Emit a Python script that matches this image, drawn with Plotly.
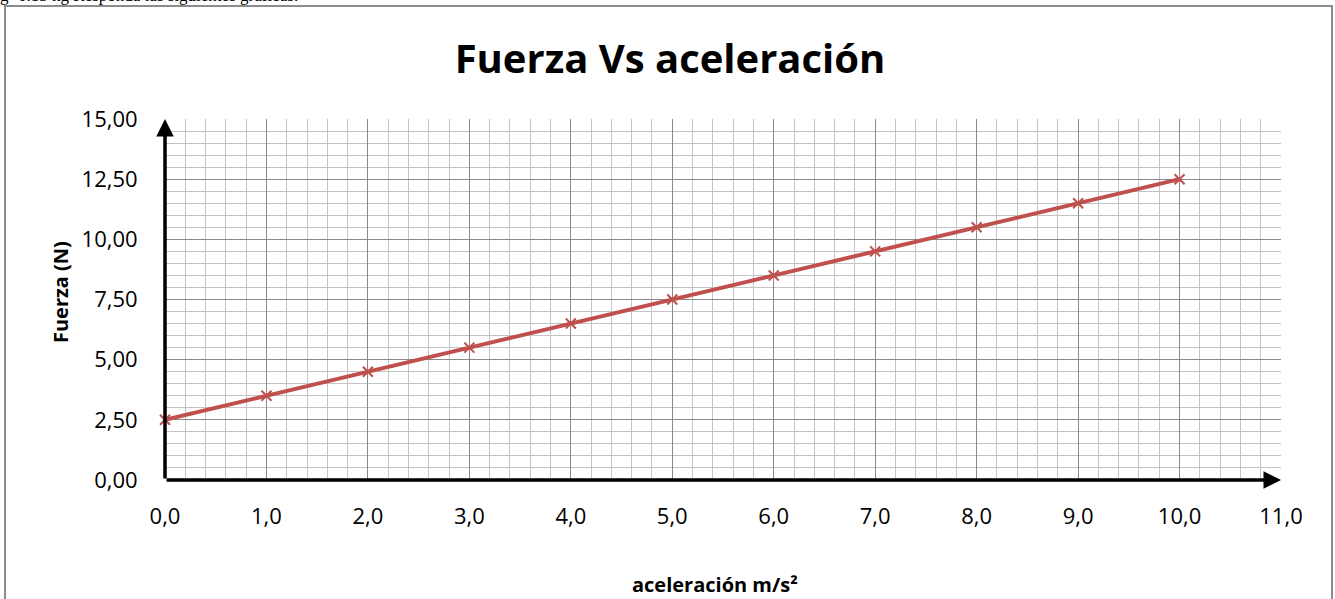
import plotly.graph_objects as go

aceleracion = [0, 1, 2, 3, 4, 5, 6, 7, 8, 9, 10]
fuerza = [2.5, 3.5, 4.5, 5.5, 6.5, 7.5, 8.5, 9.5, 10.5, 11.5, 12.5]

x_ticks = [0, 1, 2, 3, 4, 5, 6, 7, 8, 9, 10, 11]
y_ticks = [0, 2.5, 5, 7.5, 10, 12.5, 15]

FONT = "Open Sans"
W, H = 1335, 599
L, R, T, B = 165, 54, 119, 119
PW, PH = W - L - R, H - T - B


def px(xp):
    return (xp - L) / PW


def py(yp):
    return (H - B - yp) / PH


fig = go.Figure()
fig.add_trace(go.Scatter(
    x=aceleracion, y=fuerza, mode="lines+markers",
    line=dict(color="#C0504D", width=4),
    marker=dict(symbol="x-thin", size=10, line=dict(color="#C0504D", width=2), color="#C0504D"),
    showlegend=False, cliponaxis=False,
))

fig.update_layout(
    width=W, height=H,
    margin=dict(l=L, r=R, t=T, b=B),
    paper_bgcolor="white", plot_bgcolor="white",
    separators=",.",
    font=dict(family=FONT, color="black", size=22),
    title=dict(text="<b>Fuerza Vs aceleración</b>", x=670 / W, xanchor="center",
               y=1 - 59 / H, yanchor="middle", font=dict(size=40, family=FONT)),
)

fig.update_xaxes(
    range=[0, 11], tickvals=x_ticks, tickformat=".1f",
    showgrid=True, gridcolor="#8a8a8a", gridwidth=1,
    minor=dict(dtick=0.2, showgrid=True, gridcolor="#c4c4c4", gridwidth=1),
    zeroline=False, showline=False,
    ticks="outside", ticklen=17, tickcolor="rgba(0,0,0,0)",
    tickfont=dict(size=22, family=FONT),
)
fig.update_yaxes(
    range=[0, 15], tickvals=y_ticks, tickformat=".2f",
    showgrid=True, gridcolor="#8a8a8a", gridwidth=1,
    minor=dict(dtick=0.5, showgrid=True, gridcolor="#c4c4c4", gridwidth=1),
    zeroline=False, showline=False,
    ticks="outside", ticklen=22, tickcolor="rgba(0,0,0,0)",
    tickfont=dict(size=22, family=FONT),
)

# Axis arrows
fig.add_annotation(x=11, y=0, ax=0, ay=0, xref="x", yref="y", axref="x", ayref="y",
                   showarrow=True, arrowhead=2, arrowsize=1, arrowwidth=3.5,
                   arrowcolor="black", text="")
fig.add_annotation(x=0, y=15, ax=0, ay=0, xref="x", yref="y", axref="x", ayref="y",
                   showarrow=True, arrowhead=2, arrowsize=1, arrowwidth=3.5,
                   arrowcolor="black", text="")

# Axis titles
fig.add_annotation(text="<b>aceleración m/s²</b>", xref="paper", yref="paper",
                   x=px(715), y=py(584), showarrow=False,
                   xanchor="center", yanchor="middle", font=dict(size=20, family=FONT))
fig.add_annotation(text="<b>Fuerza (N)</b>", xref="paper", yref="paper",
                   x=px(60), y=py(292), showarrow=False, textangle=-90,
                   xanchor="center", yanchor="middle", font=dict(size=20, family=FONT))

# Header text cut off at top of page
fig.add_annotation(text="g=0.15 kg Responda las siguientes gráficas:", xref="paper", yref="paper",
                   x=px(-2), y=py(7), showarrow=False,
                   xanchor="left", yanchor="bottom",
                   font=dict(size=17, family="Liberation Serif", color="black"))

# Outer frame
fig.add_shape(type="rect", xref="paper", yref="paper",
              x0=px(5), x1=px(1332), y0=py(640), y1=py(6),
              line=dict(color="#8c8c8c", width=2), fillcolor="rgba(0,0,0,0)", layer="below")

fig.write_html("out.html", config={"displayModeBar": False},
               post_script="document.body.style.margin='0';")
